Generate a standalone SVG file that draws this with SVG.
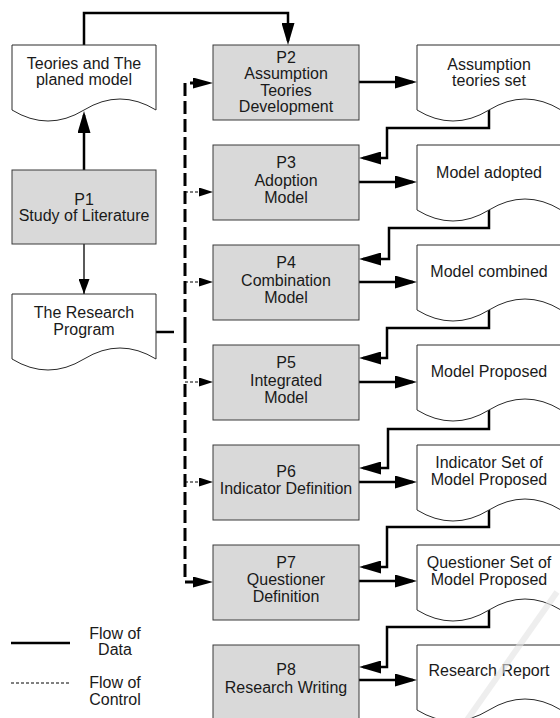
<svg xmlns="http://www.w3.org/2000/svg" width="560" height="718" viewBox="0 0 560 718">
<style>
.box{fill:#d9d9d9;stroke:#3a3a3a;stroke-width:1}
.doc{fill:#ffffff;stroke:#2a2a2a;stroke-width:1}
text{font-family:"Liberation Sans",Arial,sans-serif;font-size:16px;fill:#1a1a1a;text-anchor:middle}
.data{fill:none;stroke:#000;stroke-width:2.5;marker-end:url(#ah)}
.thin{fill:none;stroke:#000;stroke-width:1.3;marker-end:url(#ahs)}
.ctl{fill:none;stroke:#000;stroke-width:3;stroke-dasharray:13 5;marker-end:url(#ahc)}
.ctls{fill:none;stroke:#000;stroke-width:1;stroke-dasharray:3 2;marker-end:url(#ahcs)}
.plain{fill:none;stroke:#000;stroke-width:2.5}
</style>
<defs>
<marker id="ah" markerUnits="userSpaceOnUse" markerWidth="22" markerHeight="13" viewBox="0 0 22 13" refX="18" refY="6.5" orient="auto"><path d="M0,0 L22,6.5 L0,13 Z" fill="#000"/></marker>
<marker id="ahs" markerUnits="userSpaceOnUse" markerWidth="15" markerHeight="11" viewBox="0 0 15 11" refX="15" refY="5.5" orient="auto"><path d="M0,0 L15,5.5 L0,11 Z" fill="#000"/></marker>
<marker id="ahc" markerUnits="userSpaceOnUse" markerWidth="20" markerHeight="11" viewBox="0 0 20 11" refX="0" refY="5.5" orient="auto"><path d="M0,0 L20,5.5 L0,11 Z" fill="#000"/></marker>
<marker id="ahcs" markerUnits="userSpaceOnUse" markerWidth="14" markerHeight="9" viewBox="0 0 14 9" refX="0" refY="4.5" orient="auto"><path d="M0,0 L14,4.5 L0,9 Z" fill="#000"/></marker>
</defs>

<g id="connectors">
<path class="data" d="M84,45 V13 H288 V41"/>
<path class="data" d="M84,170 V115"/>
<path class="thin" d="M84,244 V294"/>
<path class="plain" d="M156,332 H174"/>
<path class="ctl" d="M185,330 V83 H193"/>
<path class="ctl" d="M185,330 V582 H193"/>
<path class="ctls" d="M185,192 H199"/>
<path class="ctls" d="M185,282 H199"/>
<path class="ctls" d="M185,382 H199"/>
<path class="ctls" d="M185,482 H199"/>
<path class="data" d="M359,82 H413"/>
<path class="data" d="M359,182 H413"/>
<path class="data" d="M359,282 H413"/>
<path class="data" d="M359,382 H413"/>
<path class="data" d="M359,482 H413"/>
<path class="data" d="M359,581 H413"/>
<path class="data" d="M359,680 H413"/>
<path class="data" d="M489,110 V128 H387 V158 H363"/>
<path class="data" d="M489,210 V228 H389 V259 H363"/>
<path class="data" d="M489,310 V328 H387 V358 H363"/>
<path class="data" d="M489,410 V429 H388 V468 H363"/>
<path class="data" d="M489,510 V527 H387 V567 H363"/>
<path class="data" d="M489,610 V627 H387 V667 H363"/>
</g>

<g id="doc-teories">
<path class="doc" d="M12,45 H156 V110 Q120,88 84,110 T12,110 Z"/>
<text x="84" y="69">Teories and The</text>
<text x="84" y="85">planed model</text>
</g>
<g id="p1">
<rect class="box" x="12" y="170" width="144" height="74"/>
<text x="84" y="205">P1</text>
<text x="84" y="221">Study of Literature</text>
</g>
<g id="doc-research-program">
<path class="doc" d="M12,294 H156 V359 Q120,337 84,359 T12,359 Z"/>
<text x="84" y="318">The Research</text>
<text x="84" y="335">Program</text>
</g>

<g id="p2">
<rect class="box" x="213" y="45" width="146" height="75"/>
<text x="286" y="62.5">P2</text>
<text x="286" y="79">Assumption</text>
<text x="286" y="95.5">Teories</text>
<text x="286" y="112">Development</text>
</g>
<g id="p3">
<rect class="box" x="213" y="145" width="146" height="75"/>
<text x="286" y="168">P3</text>
<text x="286" y="186">Adoption</text>
<text x="286" y="203">Model</text>
</g>
<g id="p4">
<rect class="box" x="213" y="245" width="146" height="75"/>
<text x="286" y="268">P4</text>
<text x="286" y="286">Combination</text>
<text x="286" y="303">Model</text>
</g>
<g id="p5">
<rect class="box" x="213" y="345" width="146" height="75"/>
<text x="286" y="368">P5</text>
<text x="286" y="385.5">Integrated</text>
<text x="286" y="403">Model</text>
</g>
<g id="p6">
<rect class="box" x="213" y="445" width="146" height="75"/>
<text x="286" y="477">P6</text>
<text x="286" y="494">Indicator Definition</text>
</g>
<g id="p7">
<rect class="box" x="213" y="545" width="146" height="75"/>
<text x="286" y="568">P7</text>
<text x="286" y="585">Questioner</text>
<text x="286" y="602">Definition</text>
</g>
<g id="p8">
<rect class="box" x="213" y="645" width="146" height="75"/>
<text x="286" y="675">P8</text>
<text x="286" y="693">Research Writing</text>
</g>

<g id="doc-assumption">
<path class="doc" d="M417,45 H561 V110 Q525,88 489,110 T417,110 Z"/>
<text x="489" y="70">Assumption</text>
<text x="489" y="86">teories set</text>
</g>
<g id="doc-adopted">
<path class="doc" d="M417,145 H561 V210 Q525,188 489,210 T417,210 Z"/>
<text x="489" y="178">Model adopted</text>
</g>
<g id="doc-combined">
<path class="doc" d="M417,245 H561 V310 Q525,288 489,310 T417,310 Z"/>
<text x="489" y="277">Model combined</text>
</g>
<g id="doc-proposed">
<path class="doc" d="M417,345 H561 V410 Q525,388 489,410 T417,410 Z"/>
<text x="489" y="377">Model Proposed</text>
</g>
<g id="doc-indicator">
<path class="doc" d="M417,445 H561 V510 Q525,488 489,510 T417,510 Z"/>
<text x="489" y="468">Indicator Set of</text>
<text x="489" y="485">Model Proposed</text>
</g>
<g id="doc-questioner">
<path class="doc" d="M417,545 H561 V610 Q525,588 489,610 T417,610 Z"/>
<text x="489" y="568">Questioner Set of</text>
<text x="489" y="585">Model Proposed</text>
</g>
<g id="doc-report">
<path class="doc" d="M417,645 H561 V710 Q525,688 489,710 T417,710 Z"/>
<text x="489" y="676">Research Report</text>
</g>

<g id="legend">
<path d="M11,643 H70" stroke="#000" stroke-width="2.5" fill="none"/>
<text x="115" y="639">Flow of</text>
<text x="115" y="655">Data</text>
<path d="M11,683 H70" stroke="#000" stroke-width="1" stroke-dasharray="3 2" fill="none"/>
<text x="115" y="688">Flow of</text>
<text x="115" y="705">Control</text>
</g>

<path d="M557,592 L467,720" stroke="#e2e2e2" stroke-width="6" opacity="0.6" fill="none"/>
</svg>
